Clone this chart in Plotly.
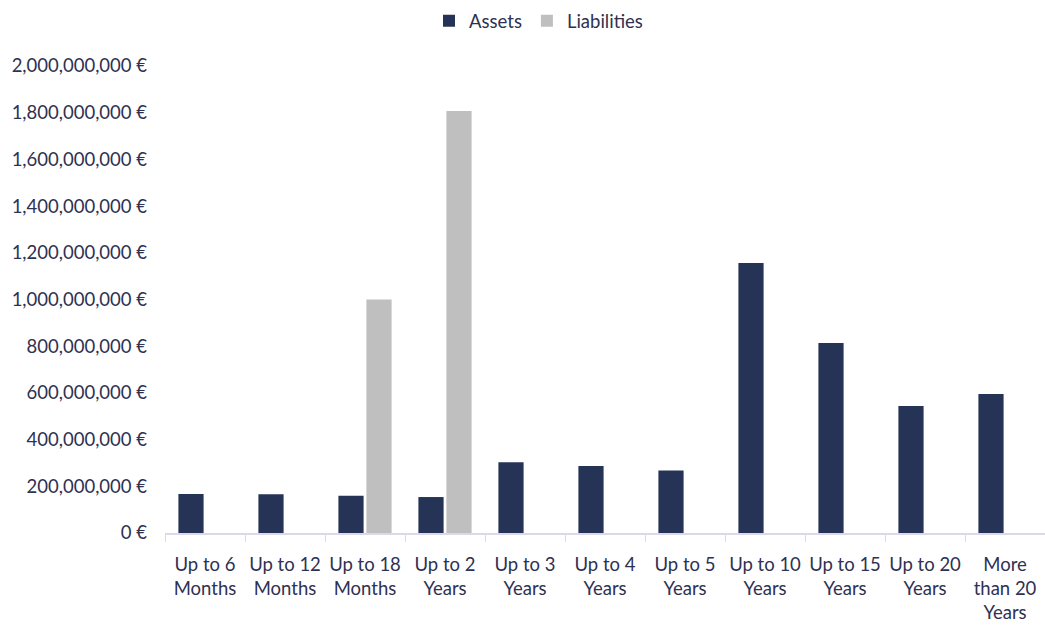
import plotly.graph_objects as go

categories = ["Up to 6<br>Months", "Up to 12<br>Months", "Up to 18<br>Months", "Up to 2<br>Years",
              "Up to 3<br>Years", "Up to 4<br>Years", "Up to 5<br>Years", "Up to 10<br>Years",
              "Up to 15<br>Years", "Up to 20<br>Years", "More<br>than 20<br>Years"]
assets = [167e6, 166e6, 160e6, 154e6, 303e6, 287e6, 268e6, 1156e6, 814e6, 544e6, 595e6]
liabilities = [None, None, 1000e6, 1807e6, None, None, None, None, None, None, None]
y_ticks = [i * 200e6 for i in range(11)]
y_ticktext = [f"{int(v):,} €" for v in y_ticks]

text_color = "#2e3152"
font_family = "Lato, 'Open Sans', sans-serif"

fig = go.Figure()
fig.add_trace(go.Bar(name="Assets", x=categories, y=assets, marker_color="#253356",
                     marker_line_width=0))
fig.add_trace(go.Bar(name="Liabilities", x=categories, y=liabilities, marker_color="#bfbfbf",
                     marker_line_width=0))

fig.update_layout(
    width=1045, height=626,
    margin=dict(l=165, r=0, t=66, b=93),
    paper_bgcolor="white", plot_bgcolor="white",
    barmode="group", bargap=0.3, bargroupgap=0.1,
    font=dict(family=font_family, color=text_color, size=18),
    showlegend=True,
    legend=dict(orientation="h", x=0.300, xanchor="left", y=1.096, yanchor="middle",
                font=dict(size=18.5, color=text_color), itemwidth=30, traceorder="normal"),
    xaxis=dict(showline=True, linecolor="#d9d9ea", linewidth=1.5, ticks="outside",
               tickson="boundaries", ticklen=7, tickcolor="#d9d9ea", tickangle=0,
               automargin=False, ticklabelstandoff=14,
               tickfont=dict(size=18.5, color=text_color), showgrid=False),
    yaxis=dict(range=[0, 2e9], tickvals=y_ticks, ticktext=y_ticktext, automargin=False,
               showgrid=False, zeroline=False, showline=False,
               tickfont=dict(size=18.5, color=text_color), ticklabelstandoff=17),
)

fig.write_html("out.html", post_script="document.body.style.margin='0';",
               config={"displayModeBar": False})
